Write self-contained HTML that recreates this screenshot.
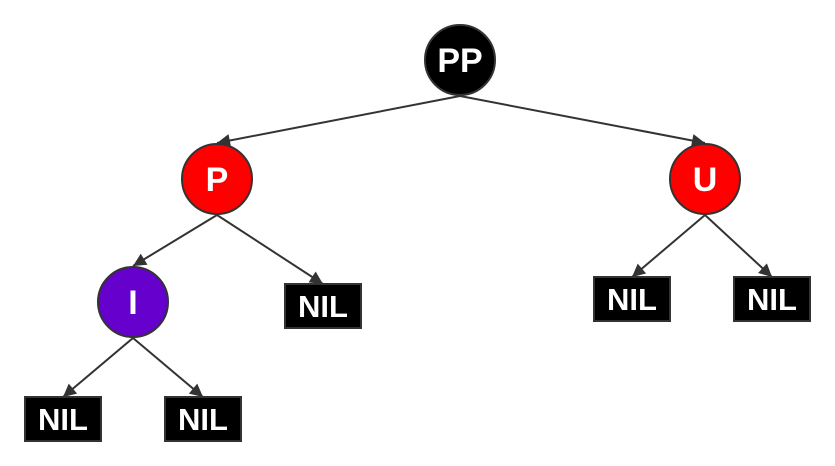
<!DOCTYPE html>
<html><head><meta charset="utf-8"><style>
html,body{margin:0;padding:0;background:#fff;}
svg{display:block;}
text{font-family:"Liberation Sans",sans-serif;font-weight:bold;fill:#fff;text-anchor:middle;}
</style></head><body>
<svg width="835" height="466" viewBox="0 0 835 466" xmlns="http://www.w3.org/2000/svg">
<defs>
<marker id="b" viewBox="0 0 10 10" markerWidth="15" markerHeight="13" refX="10" refY="5" orient="auto" markerUnits="userSpaceOnUse"><path d="M0,0 L10,5 L0,10 z" fill="#333"/></marker></defs>
<g stroke="#333" stroke-width="2" fill="none">
<line x1="460" y1="96" x2="217" y2="143" marker-end="url(#b)"/>
<line x1="460" y1="96" x2="705" y2="143" marker-end="url(#b)"/>
<line x1="217" y1="215" x2="133" y2="266" marker-end="url(#b)"/>
<line x1="217" y1="215" x2="323" y2="284" marker-end="url(#b)"/>
<line x1="705" y1="215" x2="632" y2="277" marker-end="url(#b)"/>
<line x1="705" y1="215" x2="772" y2="277" marker-end="url(#b)"/>
<line x1="133" y1="338" x2="63" y2="397" marker-end="url(#b)"/>
<line x1="133" y1="338" x2="203" y2="397" marker-end="url(#b)"/>
</g>
<g stroke="#333" stroke-width="2">
<circle cx="460" cy="60" r="35" fill="#000"/>
<circle cx="217" cy="179" r="35" fill="#f00"/>
<circle cx="705" cy="179" r="35" fill="#f00"/>
<circle cx="133" cy="302" r="35" fill="#6600cc"/>
<rect x="285" y="284" width="76" height="44" fill="#000"/>
<rect x="594" y="277" width="76" height="44" fill="#000"/>
<rect x="734" y="277" width="76" height="44" fill="#000"/>
<rect x="25" y="397" width="76" height="44" fill="#000"/>
<rect x="165" y="397" width="76" height="44" fill="#000"/>
</g>
<g font-size="34">
<text x="460" y="72">PP</text>
<text x="217" y="191">P</text>
<text x="705" y="191">U</text>
<text x="133" y="314">I</text>
</g>
<g font-size="31">
<text x="323" y="317">NIL</text>
<text x="632" y="310">NIL</text>
<text x="772" y="310">NIL</text>
<text x="63" y="430">NIL</text>
<text x="203" y="430">NIL</text>
</g>
</svg>
</body></html>
